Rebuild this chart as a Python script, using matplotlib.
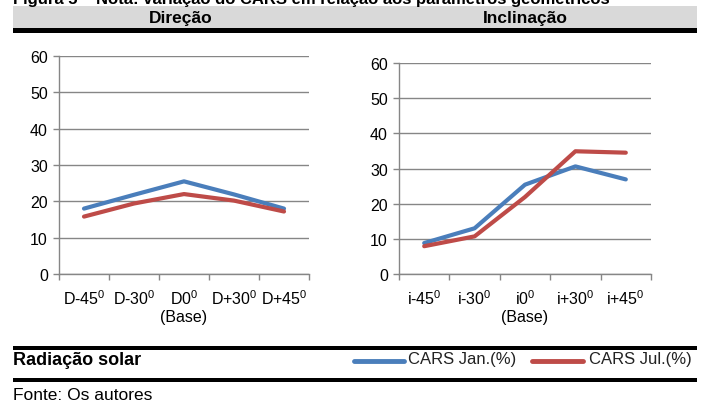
import matplotlib
matplotlib.use("Agg")
import matplotlib.pyplot as plt
from matplotlib.patches import Rectangle
from matplotlib import font_manager

W, H = 712, 406

# ---- data ----
dir_labels = ["D-45$^{0}$", "D-30$^{0}$", "D0$^{0}$\n(Base)", "D+30$^{0}$", "D+45$^{0}$"]
dir_jan = [18.0, 21.8, 25.5, 21.9, 18.0]
dir_jul = [15.8, 19.4, 22.0, 20.2, 17.2]

inc_labels = ["i-45$^{0}$", "i-30$^{0}$", "i0$^{0}$\n(Base)", "i+30$^{0}$", "i+45$^{0}$"]
inc_jan = [8.8, 13.0, 25.4, 30.6, 26.9]
inc_jul = [7.9, 10.7, 21.9, 34.9, 34.5]

yticks = [0, 10, 20, 30, 40, 50, 60]
series_names = ["CARS Jan.(%)", "CARS Jul.(%)"]

BLUE = "#4a7ebb"
RED = "#be4b48"
GRID = "#868686"

names = {f.name for f in font_manager.fontManager.ttflist}
NARROW = "Liberation Sans Narrow" if "Liberation Sans Narrow" in names else "Liberation Sans"
plt.rcParams["font.family"] = ["Liberation Sans", "DejaVu Sans"]
plt.rcParams["mathtext.fontset"] = "custom"
plt.rcParams["mathtext.rm"] = "Liberation Sans"
plt.rcParams["mathtext.it"] = "Liberation Sans:italic"
plt.rcParams["mathtext.bf"] = "Liberation Sans:bold"

fig = plt.figure(figsize=(W / 100, H / 100), dpi=100)


def px_axes(x0, x1, ytop, ybot):
    return fig.add_axes([x0 / W, (H - ybot) / H, (x1 - x0) / W, (ybot - ytop) / H])


def style(ax, labels, jan, jul):
    x = range(len(labels))
    ax.plot(x, jan, color=BLUE, lw=3.0, solid_capstyle="round", zorder=3)
    ax.plot(x, jul, color=RED, lw=3.0, solid_capstyle="round", zorder=4)
    ax.set_xlim(-0.5, len(labels) - 0.5)
    ax.set_ylim(0, 60)
    ax.set_yticks(yticks)
    ax.set_yticklabels([str(v) for v in yticks], fontsize=11.5, color="#000000")
    ax.set_xticks([i - 0.5 for i in range(len(labels) + 1)])
    ax.set_xticklabels([])
    ax.set_xticks(list(x), minor=True)
    ax.set_xticklabels(labels, minor=True, fontsize=11.5, ha="center", multialignment="center")
    ax.tick_params(axis="x", which="major", length=4, color=GRID, width=1)
    ax.tick_params(axis="x", which="minor", length=0, pad=10)
    ax.tick_params(axis="y", length=4, color=GRID, width=1, pad=4)
    ax.grid(axis="y", color=GRID, lw=1)
    ax.set_axisbelow(True)
    for s in ["top", "right"]:
        ax.spines[s].set_visible(False)
    for s in ["left", "bottom"]:
        ax.spines[s].set_color(GRID)
        ax.spines[s].set_linewidth(1)
    ax.set_facecolor("none")


ax1 = px_axes(59, 309, 57, 275)
style(ax1, dir_labels, dir_jan, dir_jul)
ax2 = px_axes(399, 651, 64, 275)
style(ax2, inc_labels, inc_jan, inc_jul)

# ---- frame decorations ----
def rect(x0, x1, ytop, ybot, color):
    fig.add_artist(Rectangle((x0 / W, (H - ybot) / H), (x1 - x0) / W, (ybot - ytop) / H,
                             transform=fig.transFigure, color=color, lw=0, zorder=0))

rect(13, 697, 7, 29, "#d9d9d9")
rect(13, 697, 29, 34, "#000000")
rect(13, 697, 347, 351, "#000000")
rect(13, 697, 379, 383, "#000000")

fig.text(13 / W, 1 - 4.0 / H,
         "Figura 5 \u2013 Nota: variação do CARS em relação aos parâmetros geométricos",
         fontsize=12, fontweight="bold", va="baseline", ha="left")
fig.text(181 / W, 1 - 18 / H, "Direção", family=NARROW, fontweight="bold",
         fontsize=12.5, ha="center", va="center")
fig.text(525 / W, 1 - 18 / H, "Inclinação", family=NARROW, fontweight="bold",
         fontsize=12.5, ha="center", va="center")
fig.text(13 / W, 1 - 361 / H, "Radiação solar", family=NARROW, fontweight="bold",
         fontsize=13, ha="left", va="center")
fig.text(13 / W, 1 - 396 / H, "Fonte: Os autores", family=NARROW,
         fontsize=12.5, ha="left", va="center")

# legend
leg_y = 1 - 362 / H
fig.add_artist(plt.Line2D([354 / W, 404 / W], [leg_y, leg_y], color=BLUE, lw=3.5,
                          solid_capstyle="round", transform=fig.transFigure))
fig.text(408 / W, 1 - 360 / H, series_names[0], fontsize=12, ha="left", va="center", color="#222222")
fig.add_artist(plt.Line2D([532 / W, 583 / W], [leg_y, leg_y], color=RED, lw=3.5,
                          solid_capstyle="round", transform=fig.transFigure))
fig.text(589 / W, 1 - 360 / H, series_names[1], fontsize=12, ha="left", va="center", color="#222222")

fig.savefig("out.png", dpi=100)
